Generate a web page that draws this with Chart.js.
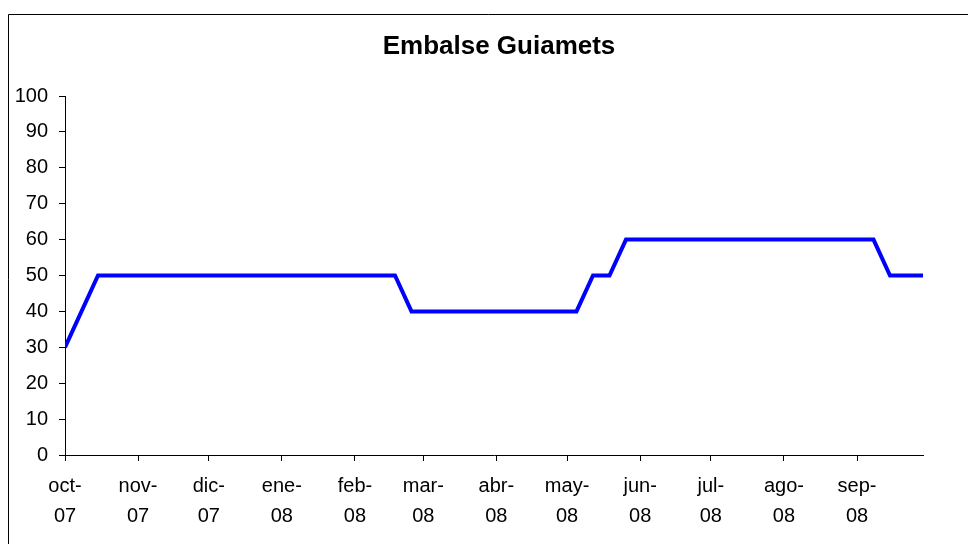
<!DOCTYPE html>
<html>
<head>
<meta charset="utf-8">
<script src="https://cdn.jsdelivr.net/npm/chart.js@4"></script>
<style>
  body { margin: 0; background: #fff; }
</style>
</head>
<body>
<canvas id="myChart" width="968" height="544"></canvas>
<script>
// weekly readings (Mondays)
const dates = [
  "2007-10-01", "2007-10-15", "2008-02-18", "2008-02-25",
  "2008-05-05", "2008-05-12", "2008-05-19", "2008-05-26",
  "2008-09-08", "2008-09-15", "2008-09-22", "2008-09-29",
];
const levels = [30, 50, 50, 40, 40, 50, 50, 60, 60, 50, 50, 50];

// x axis ticks
const tickDates = [
  "2007-10-01", "2007-11-01", "2007-12-01", "2008-01-01",
  "2008-02-01", "2008-03-01", "2008-04-01", "2008-05-01",
  "2008-06-01", "2008-07-01", "2008-08-01", "2008-09-01",
];
const monthLabels = ["oct-", "nov-", "dic-", "ene-", "feb-", "mar-", "abr-", "may-", "jun-", "jul-", "ago-", "sep-"];
const yearLabels = ["07", "07", "07", "08", "08", "08", "08", "08", "08", "08", "08", "08"];

const chartTitle = "Embalse Guiamets";

const DAY = 86400000;
const start = Date.parse(dates[0]);
const toDay = (d) => (Date.parse(d) - start) / DAY;
const tickDays = tickDates.map(toDay);

const points = dates.map((d, i) => ({ x: toDay(d), y: levels[i] }));

//borde y titulo
const frame = {
  id: "frame",
  afterDraw(chart) {
    const ctx = chart.ctx;
    ctx.save();
    ctx.strokeStyle = "#000";
    ctx.lineWidth = 1;
    ctx.beginPath();
    ctx.moveTo(8.5, 544);
    ctx.lineTo(8.5, 14.5);
    ctx.lineTo(968, 14.5);
    ctx.stroke();

    ctx.fillStyle = "#000";
    ctx.font = "bold 26px 'Liberation Sans', Arial, sans-serif";
    ctx.textAlign = "center";
    ctx.textBaseline = "middle";
    ctx.fillText(chartTitle, 499, 47);
    ctx.restore();
  },
};

Chart.defaults.font.family = "'Liberation Sans', Arial, sans-serif";
Chart.defaults.color = "#000";

new Chart("myChart", {
  type: "line",
  data: {
    datasets: [
      {
        data: points,
        borderColor: "#0000ff",
        borderWidth: 4,
        pointRadius: 0,
        tension: 0,
        fill: false,
      },
    ],
  },
  options: {
    responsive: false,
    animation: false,
    layout: { padding: { left: 0, right: 45, top: 96, bottom: 0 } },
    plugins: {
      legend: { display: false },
      tooltip: { enabled: false },
    },
    scales: {
      x: {
        type: "linear",
        min: 0,
        max: toDay(dates[dates.length - 1]),
        afterBuildTicks: (scale) => {
          scale.ticks = tickDays.map((v) => ({ value: v }));
        },
        afterFit: (scale) => {
          scale.height = 89;
        },
        border: { display: true, color: "#000", width: 1 },
        grid: { drawOnChartArea: false, color: "#000", tickLength: 6 },
        ticks: {
          autoSkip: false,
          maxRotation: 0,
          padding: 10,
          font: { size: 20, lineHeight: 1.5 },
          callback: (v) => {
            const i = tickDays.indexOf(v);
            return i < 0 ? "" : [monthLabels[i], yearLabels[i]];
          },
        },
      },
      y: {
        min: 0,
        max: 100,
        afterFit: (scale) => {
          scale.width = 65;
        },
        border: { display: true, color: "#000", width: 1 },
        grid: { drawOnChartArea: false, color: "#000", tickLength: 6 },
        ticks: { stepSize: 10, padding: 11, font: { size: 20 } },
      },
    },
  },
  plugins: [frame],
});
</script>
</body>
</html>
